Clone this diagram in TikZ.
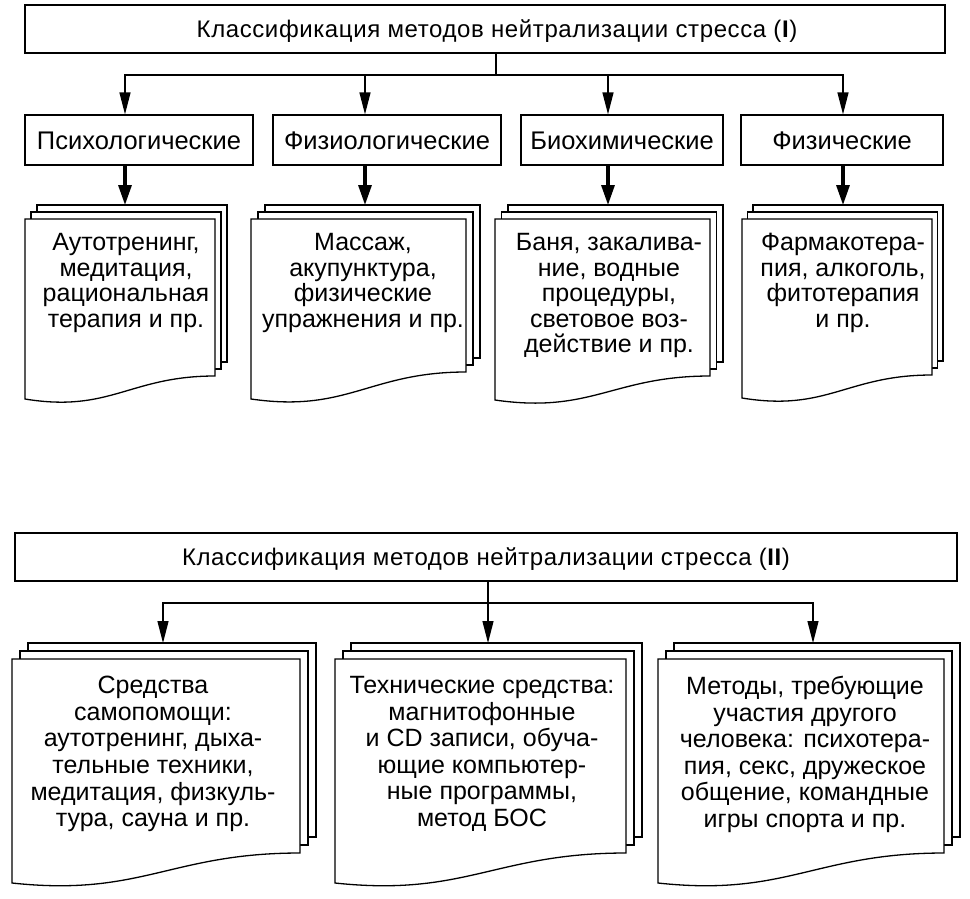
\documentclass[tikz,border=0pt]{standalone}
\usepackage{fontspec}
\setmainfont{Liberation Sans}
\newfontfamily\titlefont[LetterSpace=2.5]{Liberation Sans}
\usetikzlibrary{arrows.meta,calc}
\newcommand{\docstack}[7]{%
  % back sheet
  \filldraw[docline] (#1+2*#6,#2-2*#7) -- (#3+2*#6,#2-2*#7) -- (#3+2*#6,#4-2*#7) -- (#1+2*#6,#4-2*#7) -- cycle;
  % middle sheet
  \filldraw[docline] (#1+#6,#2-#7) -- (#3+#6,#2-#7) -- (#3+#6,#4-#7) -- (#1+#6,#4-#7) -- cycle;
  % front sheet
  \filldraw[docline] (#1,#2) -- (#3,#2) -- (#3,#4)
     .. controls ({#1+0.55*(#3-#1)},#4) and ({#1+0.45*(#3-#1)},#5+14) .. (#1,#5) -- cycle;
}
\tikzset{
  boxline/.style={draw=black, line width=1.3pt},
  docline/.style={draw=black, line width=1.3pt, fill=white},
  titlebox/.style={boxline, minimum height=48pt, inner sep=0pt, text height=17pt, text depth=0pt,
     font=\titlefont\fontsize{24}{25}\selectfont},
  catbox/.style={boxline, minimum height=50pt, inner sep=0pt, text height=18pt, text depth=0pt,
     font=\fontsize{25.5}{26}\selectfont},
  toptext/.style={align=center, inner sep=0pt, anchor=north, font=\fontsize{25}{25.6}\selectfont},
  bottext/.style={align=center, inner sep=0pt, anchor=north, font=\fontsize{25}{26.6}\selectfont},
  conn/.style={line width=1.3pt, -{Triangle[length=22pt,width=11pt]}},
  thickconn/.style={line width=3.2pt, -{Triangle[length=20pt,width=13pt]}},
  plainline/.style={line width=1.3pt}
}
\begin{document}
\begin{tikzpicture}[x=1pt,y=-1pt]
\useasboundingbox[fill=white] (0,0) rectangle (970,898);

% ---------- Part I ----------
\node[titlebox, minimum width=920pt] (t1) at (485,29) {\hspace*{24pt}Классификация методов нейтрализации стресса (\textbf{I})};
\coordinate (hub1) at (496,75);

\node[catbox, minimum width=228pt] (b1) at (139,140) {Психологические};
\node[catbox, minimum width=228pt] (b2) at (387,140) {Физиологические};
\node[catbox, minimum width=202pt] (b3) at (622,140) {Биохимические};
\node[catbox, minimum width=202pt] (b4) at (842,140) {Физические};

\docstack{25}{219}{215}{376}{399}{6}{7}
\docstack{251}{219}{466}{372}{399}{7}{7}
\docstack{495}{219}{710}{376}{400}{6.5}{7}
\docstack{742}{219}{932}{375}{398}{5.5}{7}

\coordinate (d1) at (125,205);
\coordinate (d2) at (365,205);
\coordinate (d3) at (608,205);
\coordinate (d4) at (843,205);

\node[toptext] (x1) at (126,233) {Аутотренинг,\\медитация,\\рациональная\\терапия и пр.};
\node[toptext] (x2) at (363,233) {Массаж,\\акупунктура,\\физические\\упражнения и пр.};
\node[toptext] (x3) at (609,233) {Баня, закалива-\\ние, водные\\процедуры,\\световое воз-\\действие и пр.};
\node[toptext] (x4) at (843,233) {Фармакотера-\\пия, алкоголь,\\фитотерапия\\и пр.};

\draw[plainline] (t1.south -| hub1) -- (hub1);
\draw[conn] (hub1) -| (b1.north -| d1);
\draw[conn] (hub1) -| (b2.north -| d2);
\draw[conn] (hub1) -| (b3.north -| d3);
\draw[conn] (hub1) -| (b4.north -| d4);

\draw[thickconn] (b1.south -| d1) -- (d1);
\draw[thickconn] (b2.south -| d2) -- (d2);
\draw[thickconn] (b3.south -| d3) -- (d3);
\draw[thickconn] (b4.south -| d4) -- (d4);

% ---------- Part II ----------
\node[titlebox, minimum width=942pt] (t2) at (486,557) {Классификация методов нейтрализации стресса (\textbf{II})};
\coordinate (hub2) at (488,603);

\docstack{12}{659}{300}{853}{883}{8}{8}
\docstack{335}{659}{626}{853}{883}{8}{8}
\docstack{658}{659}{944}{853}{883}{8}{8}

\coordinate (e1) at (163,643);
\coordinate (e2) at (488,643);
\coordinate (e3) at (813,643);

\node[bottext] (y1) at (153,676) {Средства\\самопомощи:\\аутотренинг, дыха-\\тельные техники,\\медитация, физкуль-\\тура, сауна и пр.};
\node[bottext] (y2) at (482,676) {Технические средства:\\магнитофонные\\и CD записи, обуча-\\ющие компьютер-\\ные программы,\\метод БОС};
\node[bottext] (y3) at (805,676) {Методы, требующие\\участия другого\\человека: психотера-\\пия, секс, дружеское\\общение, командные\\игры спорта и пр.};

\draw[plainline] (t2.south -| hub2) -- (hub2);
\draw[conn] (hub2) -| (e1);
\draw[conn] (hub2) -- (e2);
\draw[conn] (hub2) -| (e3);
\end{tikzpicture}
\end{document}
